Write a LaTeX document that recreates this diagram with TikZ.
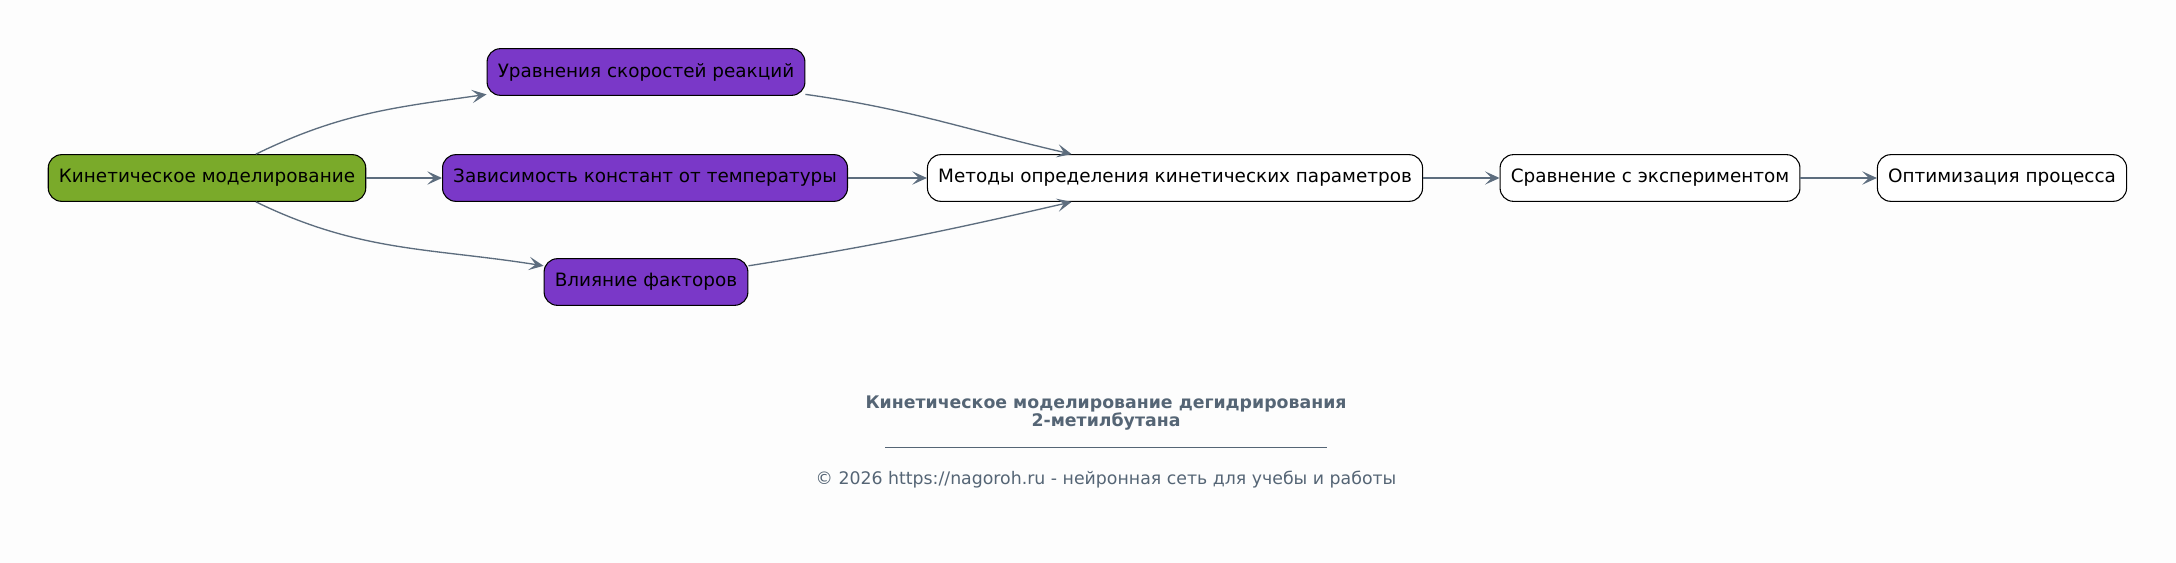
\documentclass[tikz,border=0pt]{standalone}
\usepackage{fontspec}
\setmainfont{DejaVu Sans}
\usetikzlibrary{arrows.meta}
\definecolor{rootgreen}{HTML}{7AAA2A}
\definecolor{factorpurple}{HTML}{7A38C8}
\definecolor{linkgray}{HTML}{5D6D7E}
\definecolor{captiongray}{HTML}{556575}
\definecolor{paper}{HTML}{FDFDFD}
\tikzset{
  stage/.style={draw=black, fill=white, rounded corners=10pt, minimum height=35pt,
    inner xsep=8pt, font=\fontsize{13.8}{17}\selectfont, text=black, line width=0.8pt},
  rootstage/.style={stage, fill=rootgreen},
  factor/.style={stage, fill=factorpurple},
  link/.style={draw=linkgray, line width=1pt, -{Stealth[length=11pt,width=10pt,inset=5pt]}},
  caption/.style={text=captiongray, align=center, font=\fontsize{13}{14}\selectfont\bfseries},
  credit/.style={text=captiongray, font=\fontsize{13}{15}\selectfont}
}

\begin{document}
\begin{tikzpicture}[x=0.75pt, y=-0.75pt]
        \fill[paper] (0,0) rectangle (2176,563);
        \useasboundingbox (0,0) rectangle (2176,563);

        \node[rootstage] (kin) at (207,178) {Кинетическое моделирование};
        \node[factor] (eq) at (646,72) {Уравнения скоростей реакций};
        \node[factor] (temp) at (645,178) {Зависимость констант от температуры};
        \node[factor] (fact) at (646,282) {Влияние факторов};
        \node[stage] (met) at (1175,178) {Методы определения кинетических параметров};
        \node[stage] (cmp) at (1650,178) {Сравнение с экспериментом};
        \node[stage] (opt) at (2002,178) {Оптимизация процесса};

        \draw[link] (kin) to[out=26, in=188] (eq);
        \draw[link] (kin) -- (temp);
        \draw[link] (kin) to[out=-26, in=171] (fact);

        \draw[link] (eq) to[out=-8, in=167] (met);
        \draw[link] (temp) -- (met);
        \draw[link] (fact) to[out=9, in=193] (met);

        \draw[link] (met) -- (cmp);
        \draw[link] (cmp) -- (opt);

        \node[caption] (ttl) at (1106,413) {Кинетическое моделирование дегидрирования\\2-метилбутана};
        \coordinate (rulel) at (885,447);
        \coordinate (ruler) at (1327,447);
        \draw[captiongray, line width=0.6pt] (rulel) -- (ruler);
        \node[credit] (cred) at (1106,480) {© 2026 https://nagoroh.ru - нейронная сеть для учебы и работы};
    \end{tikzpicture}
\end{document}
